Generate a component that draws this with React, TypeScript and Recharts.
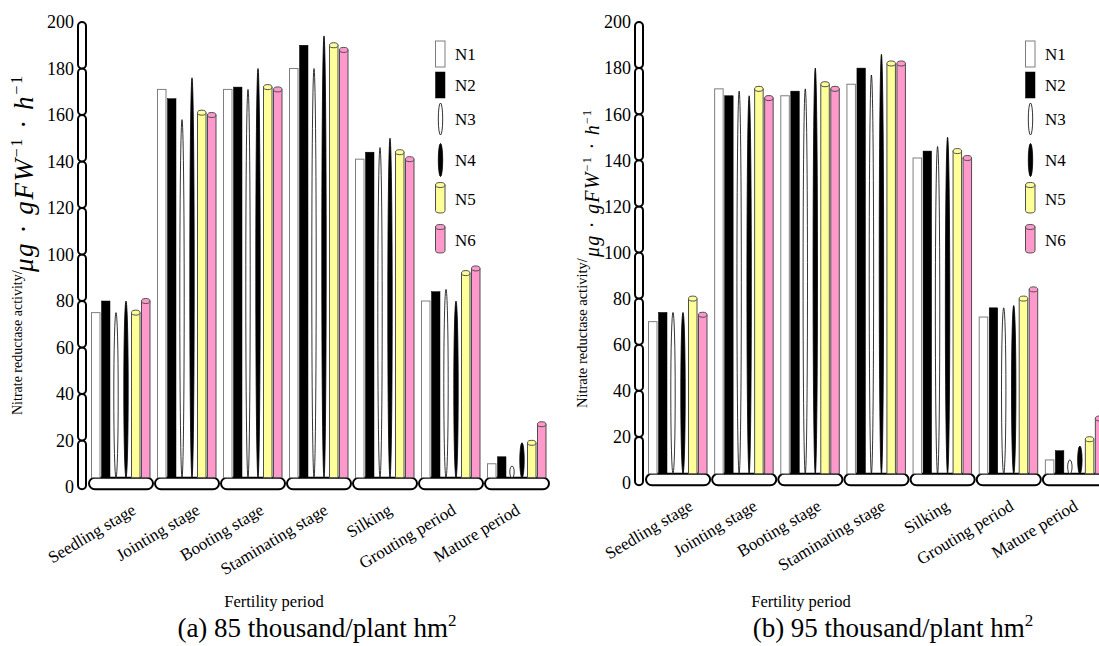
import React from 'react';
import { BarChart, Bar, XAxis, YAxis, ReferenceArea } from 'recharts';

const FONT = "'Liberation Serif', 'Times New Roman', serif";

const categories = [
  'Seedling stage',
  'Jointing stage',
  'Booting stage',
  'Staminating stage',
  'Silking',
  'Grouting period',
  'Mature period',
];

const seriesNames = ['N1', 'N2', 'N3', 'N4', 'N5', 'N6'];

// (a) 85 thousand/plant hm2
const aN1 = [75, 171, 171, 180, 141, 80, 10];
const aN2 = [80, 167, 172, 190, 144, 84, 13];
const aN3 = [75, 158, 171, 180, 146, 85, 9];
const aN4 = [80, 176, 180, 194, 150, 80, 19];
const aN5 = [75, 161, 172, 190, 144, 92, 19];
const aN6 = [80, 160, 171, 188, 141, 94, 27];

// (b) 95 thousand/plant hm2
const bN1 = [70, 171, 168, 173, 141, 72, 10];
const bN2 = [74, 168, 170, 180, 144, 76, 14];
const bN3 = [74, 170, 171, 177, 146, 76, 10];
const bN4 = [74, 168, 180, 186, 150, 77, 16];
const bN5 = [80, 171, 173, 182, 144, 80, 19];
const bN6 = [73, 167, 171, 182, 141, 84, 28];

const yTicks = [0, 20, 40, 60, 80, 100, 120, 140, 160, 180, 200];

// bars stand on the floor of the chart, a little above zero
const FLOOR = 4;

type Kind = 'box' | 'solid' | 'lens' | 'lensSolid' | 'cylYellow' | 'cylPink';
const seriesKinds: Kind[] = ['box', 'solid', 'lens', 'lensSolid', 'cylYellow', 'cylPink'];

const makeRows = (vals: number[][]) =>
  categories.map((name, i) => {
    const row: any = { name };
    seriesNames.forEach((s, j) => {
      row[s] = [FLOOR, vals[j][i]];
    });
    return row;
  });

const dataA = makeRows([aN1, aN2, aN3, aN4, aN5, aN6]);
const dataB = makeRows([bN1, bN2, bN3, bN4, bN5, bN6]);

function drawMark(kind: Kind, x: number, y: number, w: number, h: number, roundBottom = false) {
  const cx = x + w / 2;
  if (kind === 'box') {
    return <rect x={x + 0.5} y={y} width={w - 1.5} height={h} fill='#fff' stroke='#7f7f7f' strokeWidth={1} />;
  }
  if (kind === 'solid') {
    return <rect x={x + 0.5} y={y} width={w - 1.5} height={h} fill='#000' stroke='#000' strokeWidth={0.5} />;
  }
  if (kind === 'lens' || kind === 'lensSolid') {
    return (
      <ellipse
        cx={cx}
        cy={y + h / 2}
        rx={Math.min(2.2, w * 0.22)}
        ry={h / 2}
        fill={kind === 'lens' ? '#fff' : '#000'}
        stroke='#000'
        strokeWidth={0.8}
      />
    );
  }
  const color = kind === 'cylYellow' ? '#FFFF99' : '#FF99CC';
  const e = 2.5;
  const l = x + 0.5;
  const r = x + w - 1;
  const rx = (r - l) / 2;
  const body = roundBottom
    ? `M${l},${y} L${l},${y + h - e} A${rx},${e} 0 0 0 ${r},${y + h - e} L${r},${y} Z`
    : `M${l},${y} L${l},${y + h} L${r},${y + h} L${r},${y} Z`;
  return (
    <g>
      <path d={body} fill={color} stroke='#4d4d4d' strokeWidth={1} />
      <ellipse cx={(l + r) / 2} cy={y} rx={rx} ry={e} fill={color} stroke='#4d4d4d' strokeWidth={1} />
    </g>
  );
}

const YTick = (props: any) => {
  const { x, y, payload } = props;
  return (
    <text x={x - 14} y={y} dy='0.35em' textAnchor='end' fontSize={18} fontFamily={FONT} fill='#000'>
      {payload.value}
    </text>
  );
};

const XTick = (props: any) => {
  const { x, y, payload } = props;
  const i = props.index ?? payload.index ?? 0;
  const tx = x + Math.max(4, 16 - 2 * i);
  const ty = y + 26;
  return (
    <text x={tx} y={ty} textAnchor='end' transform={`rotate(-31, ${tx}, ${ty})`} fontSize={17} fontFamily={FONT} fill='#000'>
      {payload.value}
    </text>
  );
};

const AxisLink = (p: any) => (
  <rect x={p.x - 10} y={p.y} width={8} height={p.height} rx={4} ry={4} fill='#fff' stroke='#000' strokeWidth={2} />
);

const BaseCapsule = (p: any) => (
  <rect x={p.x + 1} y={p.y} width={p.width - 2} height={p.height} rx={6} ry={6} fill='#fff' stroke='#000' strokeWidth={2} />
);

function Panel({ data, width, axisWidth, xAxisHeight }: { data: any[]; width: number; axisWidth: number; xAxisHeight: number }) {
  return (
    <BarChart width={width} height={646} data={data} margin={{ top: 22, right: 2, left: 0, bottom: 0 }} barCategoryGap={3} barGap={0}>
      <XAxis dataKey='name' axisLine={false} tickLine={false} tickSize={0} tickMargin={0} interval={0} height={xAxisHeight} tick={<XTick />} />
      <YAxis
        type='number'
        domain={[0, 200]}
        ticks={yTicks}
        interval={0}
        width={axisWidth}
        axisLine={false}
        tickLine={false}
        tickSize={0}
        tickMargin={0}
        tick={<YTick />}
      />
      {yTicks.slice(0, -1).map((v) => (
        <ReferenceArea key={`y${v}`} y1={v === 0 ? -1 : v} y2={v + 20} ifOverflow='visible' shape={AxisLink} />
      ))}
      {categories.map((c) => (
        <ReferenceArea key={`x${c}`} x1={c} x2={c} y1={-1} y2={FLOOR} ifOverflow='visible' shape={BaseCapsule} />
      ))}
      {seriesNames.map((s, j) => (
        <Bar
          key={s}
          dataKey={s}
          isAnimationActive={false}
          shape={(p: any) => drawMark(seriesKinds[j], p.x, p.y, p.width, Math.abs(p.height))}
        />
      ))}
    </BarChart>
  );
}

// legend item centres (px from top)
const LEGEND_Y = [54, 85, 119, 160, 199, 240];
const LEGEND_H = [26, 26, 32, 33, 28, 26];

function LegendBlock({ x }: { x: number }) {
  return (
    <g>
      {seriesNames.map((s, i) => (
        <g key={s}>
          {drawMark(seriesKinds[i], x, LEGEND_Y[i] - LEGEND_H[i] / 2, 11, LEGEND_H[i], true)}
          <text x={x + 20} y={LEGEND_Y[i] + 6} fontSize={17} fontFamily={FONT} fill='#000'>
            {s}
          </text>
        </g>
      ))}
    </g>
  );
}

function YTitle({ x, y, mathX, mathY, small, big, mathLen }: any) {
  return (
    <g fontFamily={FONT} fill='#000'>
      <text transform={`translate(${x},${y}) rotate(-90)`} fontSize={small}>
        Nitrate reductase activity/
      </text>
      <text transform={`translate(${mathX},${mathY}) rotate(-90)`} fontSize={big} textLength={mathLen} lengthAdjust='spacing'>
        <tspan fontStyle='italic'>μg</tspan>
        <tspan> · </tspan>
        <tspan fontStyle='italic'>gFW</tspan>
        <tspan fontSize={big * 0.6} dy={-big * 0.4}>−1</tspan>
        <tspan dy={big * 0.4}> · </tspan>
        <tspan fontStyle='italic'>h</tspan>
        <tspan fontSize={big * 0.6} dy={-big * 0.4}>−1</tspan>
      </text>
    </g>
  );
}

export default function App() {
  return (
    <div style={{ position: 'fixed', left: 0, top: 0, width: 1099, height: 646, overflow: 'hidden', background: '#fff' }}>
      <div style={{ position: 'absolute', left: 0, top: 0 }}>
        <Panel data={dataA} width={552} axisWidth={88} xAxisHeight={159} />
      </div>
      <div style={{ position: 'absolute', left: 552, top: 0 }}>
        <Panel data={dataB} width={558} axisWidth={93} xAxisHeight={163} />
      </div>
      <svg width={1099} height={646} style={{ position: 'absolute', left: 0, top: 0, pointerEvents: 'none' }}>
        <LegendBlock x={435} />
        <LegendBlock x={1025} />
        <YTitle x={22} y={415} mathX={33} mathY={272} small={14} big={27} mathLen={196} />
        <YTitle x={587} y={408} mathX={599} mathY={257} small={14.5} big={20} mathLen={147} />
        <g fontFamily={FONT} fill='#000' textAnchor='middle'>
          <text x={274} y={607} fontSize={16.5}>Fertility period</text>
          <text x={801} y={607} fontSize={16.5}>Fertility period</text>
          <text x={317} y={637} fontSize={27}>
            (a) 85 thousand/plant hm<tspan dy={-11} fontSize={17}>2</tspan>
          </text>
          <text x={893} y={637} fontSize={27}>
            (b) 95 thousand/plant hm<tspan dy={-11} fontSize={17}>2</tspan>
          </text>
        </g>
      </svg>
    </div>
  );
}
